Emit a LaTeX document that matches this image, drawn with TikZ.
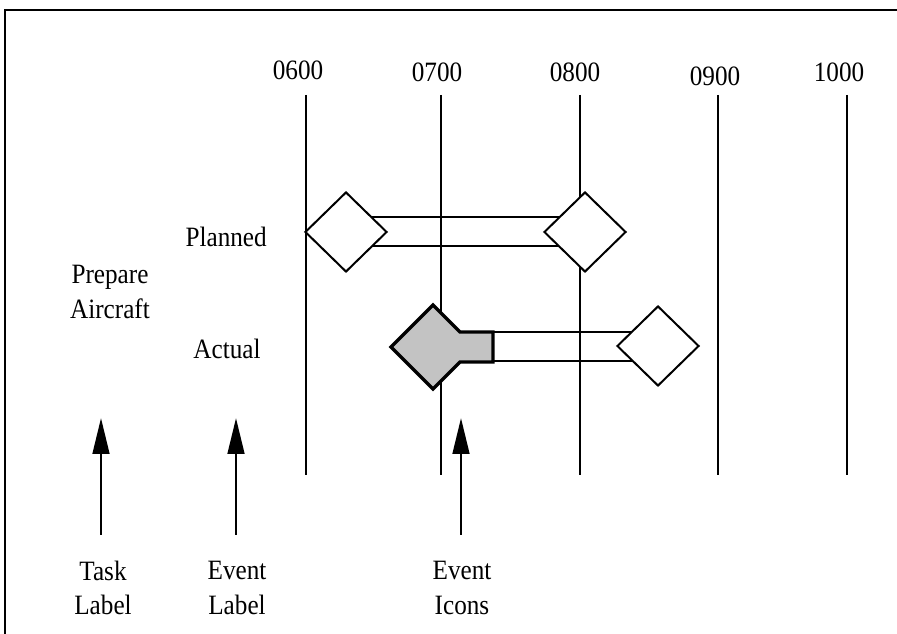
\documentclass[tikz,border=0pt]{standalone}
\usepackage{fontspec}
\setmainfont[FakeStretch=0.9]{Liberation Serif}
\usetikzlibrary{arrows.meta,positioning,calc,shapes.geometric}
\definecolor{ink}{RGB}{0,0,0}
\definecolor{stipple}{RGB}{195,195,195}
\tikzset{
  frame/.style={draw=ink,line width=2.2pt},
  hourline/.style={draw=ink,line width=1.8pt},
  txt/.style={inner sep=0pt,align=center,font=\fontsize{21}{26}\selectfont},
  event/.style={shape=diamond,draw=ink,fill=white,line width=1.5pt,inner sep=0pt,minimum width=61.5pt,minimum height=60pt},
  bar/.style={draw=ink,line width=1.5pt},
  done/.style={draw=ink,fill=stipple,line width=2.6pt,line join=miter},
  pointer/.style={-{Triangle[length=27pt,width=12.5pt]},ink,line width=2pt},
}
\begin{document}
\begin{tikzpicture}[x=0.75pt,y=-0.75pt]
\useasboundingbox (0,0) rectangle (897,634);
\clip (0,0) rectangle (897,634);
\draw[frame] (5,10) rectangle (920,660);

% time scale
\foreach \t/\x/\lx/\ly in {0600/306/298/70,0700/441/437/72,0800/580/575/72,0900/718/715/76,1000/847/839/72}{
  \node[txt] (h\t) at (\lx,\ly) {\t};
  \draw[hourline] (\x,95) -- (\x,475);
}

% task and event labels
\node[txt] (task) at (110,292) {Prepare\\Aircraft};
\node[txt,anchor=east] (planned) at (267,237) {Planned};
\node[txt] (actual) at (227,349) {Actual};

% planned events
\coordinate (pstart) at (346,232);
\coordinate (pend) at (585,232);
\draw[bar] ($(pstart)+(0,-14.5)$) rectangle ($(pend)+(0,14.5)$);
\node[event] (p1) at (pstart) {};
\node[event] (p2) at (pend) {};

% actual events
\coordinate (astart) at (433,347);
\coordinate (aend) at (658,346);
\draw[bar] ($(astart)+(0,-15)$) rectangle ($(aend)+(0,15)$);
\node[event] (a2) at (aend) {};
\draw[done] (391,347) -- (433,305) -- (460,332) -- (493,332) -- (493,362)
  -- (460,362) -- (433,389) -- cycle;

% legend
\node[txt] (tasklbl) at (103,588) {Task\\Label};
\node[txt] (eventlbl) at (237,588) {Event\\Label};
\node[txt] (iconlbl) at (462,588) {Event\\Icons};
\coordinate (tasktip) at (101,418);
\coordinate (eventtip) at (236,418);
\coordinate (icontip) at (461,418);
\draw[pointer] (tasktip |- 0,535) -- (tasktip);
\draw[pointer] (eventtip |- 0,535) -- (eventtip);
\draw[pointer] (icontip |- 0,535) -- (icontip);
\end{tikzpicture}
\end{document}
